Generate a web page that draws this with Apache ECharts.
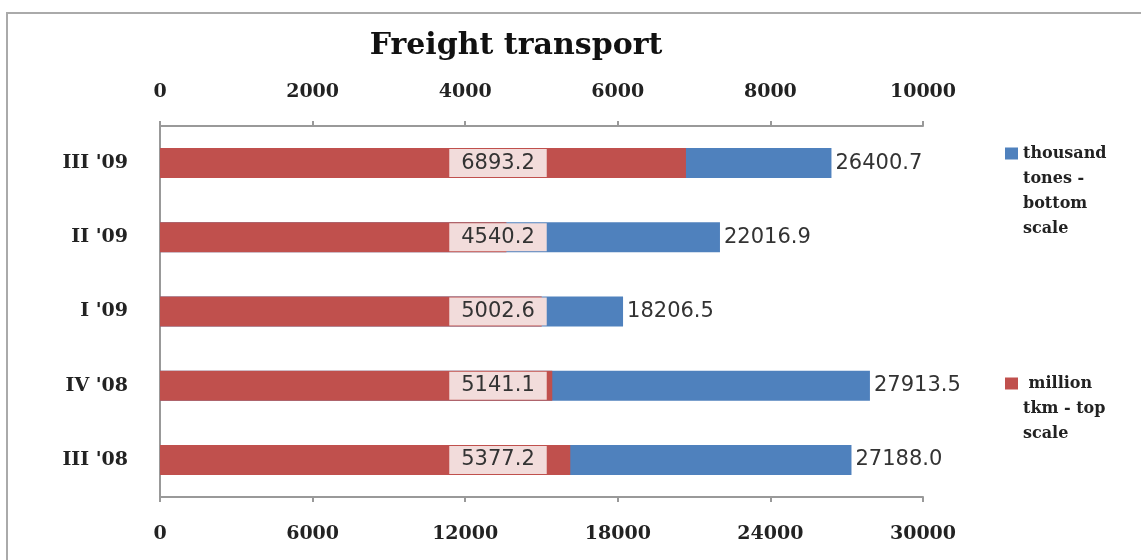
<!DOCTYPE html>
<html><head><meta charset="utf-8">
<script src="https://cdn.jsdelivr.net/npm/echarts@6/dist/echarts.min.js"></script>
<style>html,body{margin:0;padding:0;background:#fff}#c{width:1141px;height:560px}</style>
</head><body><div id="c"></div>
<script>
var categories = ["III '08", "IV '08", "I '09", "II '09", "III '09"];
var tonnes = [27188.0, 27913.5, 18206.5, 22016.9, 26400.7];
var tkm = [5377.2, 5141.1, 5002.6, 4540.2, 6893.2];
var topTicks = [0, 2000, 4000, 6000, 8000, 10000];
var bottomTicks = [0, 6000, 12000, 18000, 24000, 30000];
var tonnesName = "thousand\ntones -\nbottom\nscale";
var tkmName = " million\ntkm - top\nscale";

var serifBold = {fontFamily: 'DejaVu Serif', fontWeight: 'bold', fontSize: 19, color: '#222'};
var legendText = {fontFamily: 'DejaVu Serif', fontWeight: 'bold', fontSize: 16, color: '#222', lineHeight: 25};
function topAlign(name) {
  var n = name.split('\n').length;
  return new Array(n).join('\n') + name;
}
var chart = echarts.init(document.getElementById('c'));
chart.setOption({
  animation: false,
  title: {text: 'Freight transport', left: 511, top: 26, textAlign: 'center',
    textStyle: {fontFamily: 'DejaVu Serif', fontWeight: 'bold', fontSize: 30, color: '#111'}},
  graphic: [{type: 'rect', shape: {x: 7, y: 13, width: 1200, height: 600},
    style: {fill: 'none', stroke: '#aaa', lineWidth: 2}, silent: true}],
  legend: [
    {data: [tonnesName], left: 1000, top: 61, orient: 'vertical', itemWidth: 13, itemHeight: 12,
     icon: 'rect', formatter: topAlign, textStyle: legendText},
    {data: [tkmName], left: 1000, top: 316, orient: 'vertical', itemWidth: 13, itemHeight: 12,
     icon: 'rect', formatter: topAlign, textStyle: legendText}
  ],
  grid: {left: 160, right: 218, top: 126, bottom: 63},
  xAxis: [
    {type: 'value', position: 'top', min: 0, max: 10000, interval: 2000,
     axisLine: {show: true, lineStyle: {color: '#999', width: 2}},
     axisTick: {show: true, length: 5, lineStyle: {color: '#999', width: 2}},
     splitLine: {show: false},
     axisLabel: Object.assign({margin: 24, formatter: function (v) { return topTicks.indexOf(v) >= 0 ? String(v) : ''; }}, serifBold)},
    {type: 'value', position: 'bottom', min: 0, max: 30000, interval: 6000,
     axisLine: {show: true, lineStyle: {color: '#999', width: 2}},
     axisTick: {show: true, length: 5, lineStyle: {color: '#999', width: 2}},
     splitLine: {show: false},
     axisLabel: Object.assign({margin: 28, formatter: function (v) { return bottomTicks.indexOf(v) >= 0 ? String(v) : ''; }}, serifBold)}
  ],
  yAxis: {type: 'category', data: categories,
    axisLine: {show: true, lineStyle: {color: '#999', width: 2}},
    axisTick: {show: false},
    axisLabel: Object.assign({margin: 32}, serifBold)},
  series: [
    {name: tonnesName, type: 'bar', xAxisIndex: 1, data: tonnes, barWidth: 30, barGap: '-100%',
     itemStyle: {color: '#4f81bd'},
     label: {show: true, position: 'right', distance: 4, formatter: function (p) { return p.value.toFixed(1); },
       fontFamily: 'DejaVu Sans', fontSize: 21, color: '#333'}},
    {name: tkmName, type: 'bar', xAxisIndex: 0, data: tkm, barWidth: 30, barGap: '-100%',
     itemStyle: {color: '#c0504d'},
     label: {show: true, position: [338, '50%'], align: 'center', verticalAlign: 'middle',
       formatter: function (p) { return p.value.toFixed(1); },
       fontFamily: 'DejaVu Sans', fontSize: 21, color: '#333',
       backgroundColor: '#f2dcdb', padding: [4, 12, 3, 12]}}
  ]
});
</script></body></html>
